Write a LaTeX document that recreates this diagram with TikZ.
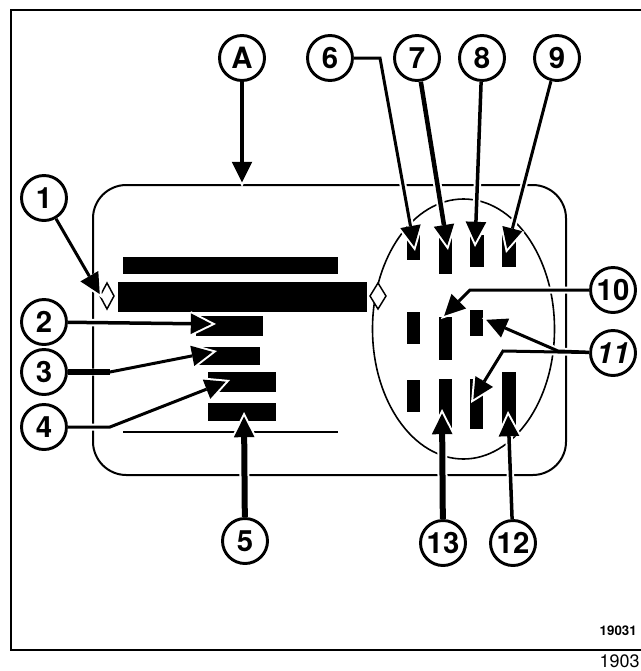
\documentclass[tikz,border=0pt]{standalone}
\usepackage{fontspec}
\setmainfont{TeX Gyre Heros}
\usetikzlibrary{arrows.meta}
\tikzset{
  callout/.style={circle,draw=black,fill=white,line width=2.2pt,minimum size=33.75pt,inner sep=0pt,font=\fontsize{22}{22}\selectfont\bfseries},
  haloline/.style={draw=white,line cap=butt,line width=(#1+4)*0.75pt,-{Triangle[length=19pt,width=19pt,line width=0pt]}},
  blackline/.style={draw=black,line cap=butt,line width=#1*0.75pt,shorten >=3.4pt,-{Triangle[length=15.5pt,width=15.5pt,line width=0pt]}},
  outline/.style={draw=black,line width=1.5pt},
  thinoutline/.style={draw=black,line width=1.2pt},
  bar/.style={fill=black},
  diam/.style={draw=black,line width=1.1pt,fill=white}
}
\newcommand{\conn}[2]{%
  \draw[haloline=#1] #2;
  \draw[blackline=#1] #2;
}
\begin{document}
\begin{tikzpicture}[x=0.75pt,y=-0.75pt]
\useasboundingbox (0,0) rectangle (641,671);
% frame
\draw[line width=2.2pt] (641,10) -- (11,10) -- (11,650) -- (641,650);
% housing
\draw[outline,rounded corners=25pt] (93,185) rectangle (566,475);
\draw[thinoutline] (463.5,329) ellipse [x radius=91,y radius=130];
% diamonds
\draw[diam] (107,283) -- (114,296) -- (107,309) -- (100,296) -- cycle;
\draw[diam] (378,283) -- (386,296) -- (378,309) -- (370,296) -- cycle;
% bars
\fill[bar] (123,257) rectangle (338,274);
\fill[bar] (118,282) rectangle (367,312);
\fill[bar] (196,316) rectangle (263,336);
\fill[bar] (198,347) rectangle (260,365);
\fill[bar] (208,372) rectangle (276,392);
\fill[bar] (208,403) rectangle (276,421);
\draw[outline] (123,432) -- (338,432);
\fill[bar] (407,235) rectangle (420,260);
\fill[bar] (439,235) rectangle (452,274);
\fill[bar] (470,235) rectangle (484,267);
\fill[bar] (502,235) rectangle (516,267);
\fill[bar] (407,312) rectangle (420,344);
\fill[bar] (439,317) rectangle (452,360);
\fill[bar] (470,310) rectangle (483,336);
\fill[bar] (407,380) rectangle (420,412);
\fill[bar] (439,379) rectangle (452,429);
\fill[bar] (470,379) rectangle (483,429);
\fill[bar] (502,372) rectangle (516,429);
% callouts
\node[callout] (nA) at (242,58) {A};
\node[callout] (n1) at (44,198) {1};
\node[callout] (n2) at (44,322) {2};
\node[callout] (n3) at (44,372) {3};
\node[callout] (n4) at (44,427) {4};
\node[callout] (n5) at (245,541) {5};
\node[callout] (n6) at (330,58) {6};
\node[callout] (n7) at (417,58) {7};
\node[callout] (n8) at (482,58) {8};
\node[callout] (n9) at (557,58) {9};
\node[callout] (n10) at (613,290) {10};
\node[callout] (n11) at (613,353) {\itshape 11};
\node[callout] (n12) at (513,543) {12};
\node[callout] (n13) at (443,543) {13};
% connector points
\coordinate (tA) at (242,187);
\coordinate (t1) at (102,298);
\coordinate (t2) at (216,324);
\coordinate (b3) at (110,372);
\coordinate (t3) at (217,351);
\coordinate (b4) at (110,427);
\coordinate (t4) at (230,380);
\coordinate (t5) at (244,412);
\coordinate (b6) at (380,58);
\coordinate (t6) at (415,251);
\coordinate (t7) at (448,250);
\coordinate (t8) at (475,247);
\coordinate (t9) at (506,253);
\coordinate (b10) at (470,290);
\coordinate (t10) at (441,319);
\coordinate (b11a) at (558,351);
\coordinate (t11a) at (482,318);
\coordinate (b11b) at (503,351);
\coordinate (t11b) at (471,403);
\coordinate (t12) at (508,411);
\coordinate (t13) at (442,409);
% connectors
\conn{4.5}{(nA) -- (tA)}
\conn{3}{(n1) -- (t1)}
\conn{3.5}{(n2) -- (t2)}
\conn{3}{(n3) -- (b3) -- (t3)}
\conn{3}{(n4) -- (b4) -- (t4)}
\conn{6}{(n5) -- (t5)}
\conn{3}{(n6) -- (b6) -- (t6)}
\conn{4.5}{(n7) -- (t7)}
\conn{3.5}{(n8) -- (t8)}
\conn{3}{(n9) -- (t9)}
\conn{3}{(n10) -- (b10) -- (t10)}
\draw[haloline=3] (n11) -- (b11a) -- (t11a);
\draw[haloline=3] (n11) -- (b11b) -- (t11b);
\draw[blackline=3] (n11) -- (b11a) -- (t11a);
\draw[blackline=3] (n11) -- (b11b) -- (t11b);
\conn{3.5}{(n12) -- (t12)}
\conn{6}{(n13) -- (t13)}
\draw[line width=4.2pt] (n3) -- (b3);
% image numbers
\node[anchor=east,inner sep=0pt,font=\fontsize{10}{11}\selectfont\bfseries] (code) at (637,631) {19031};
\node[anchor=east,inner sep=0pt,font=\fontsize{13.5}{14}\selectfont] (ref) at (640,661) {1903};
\end{tikzpicture}
\end{document}
